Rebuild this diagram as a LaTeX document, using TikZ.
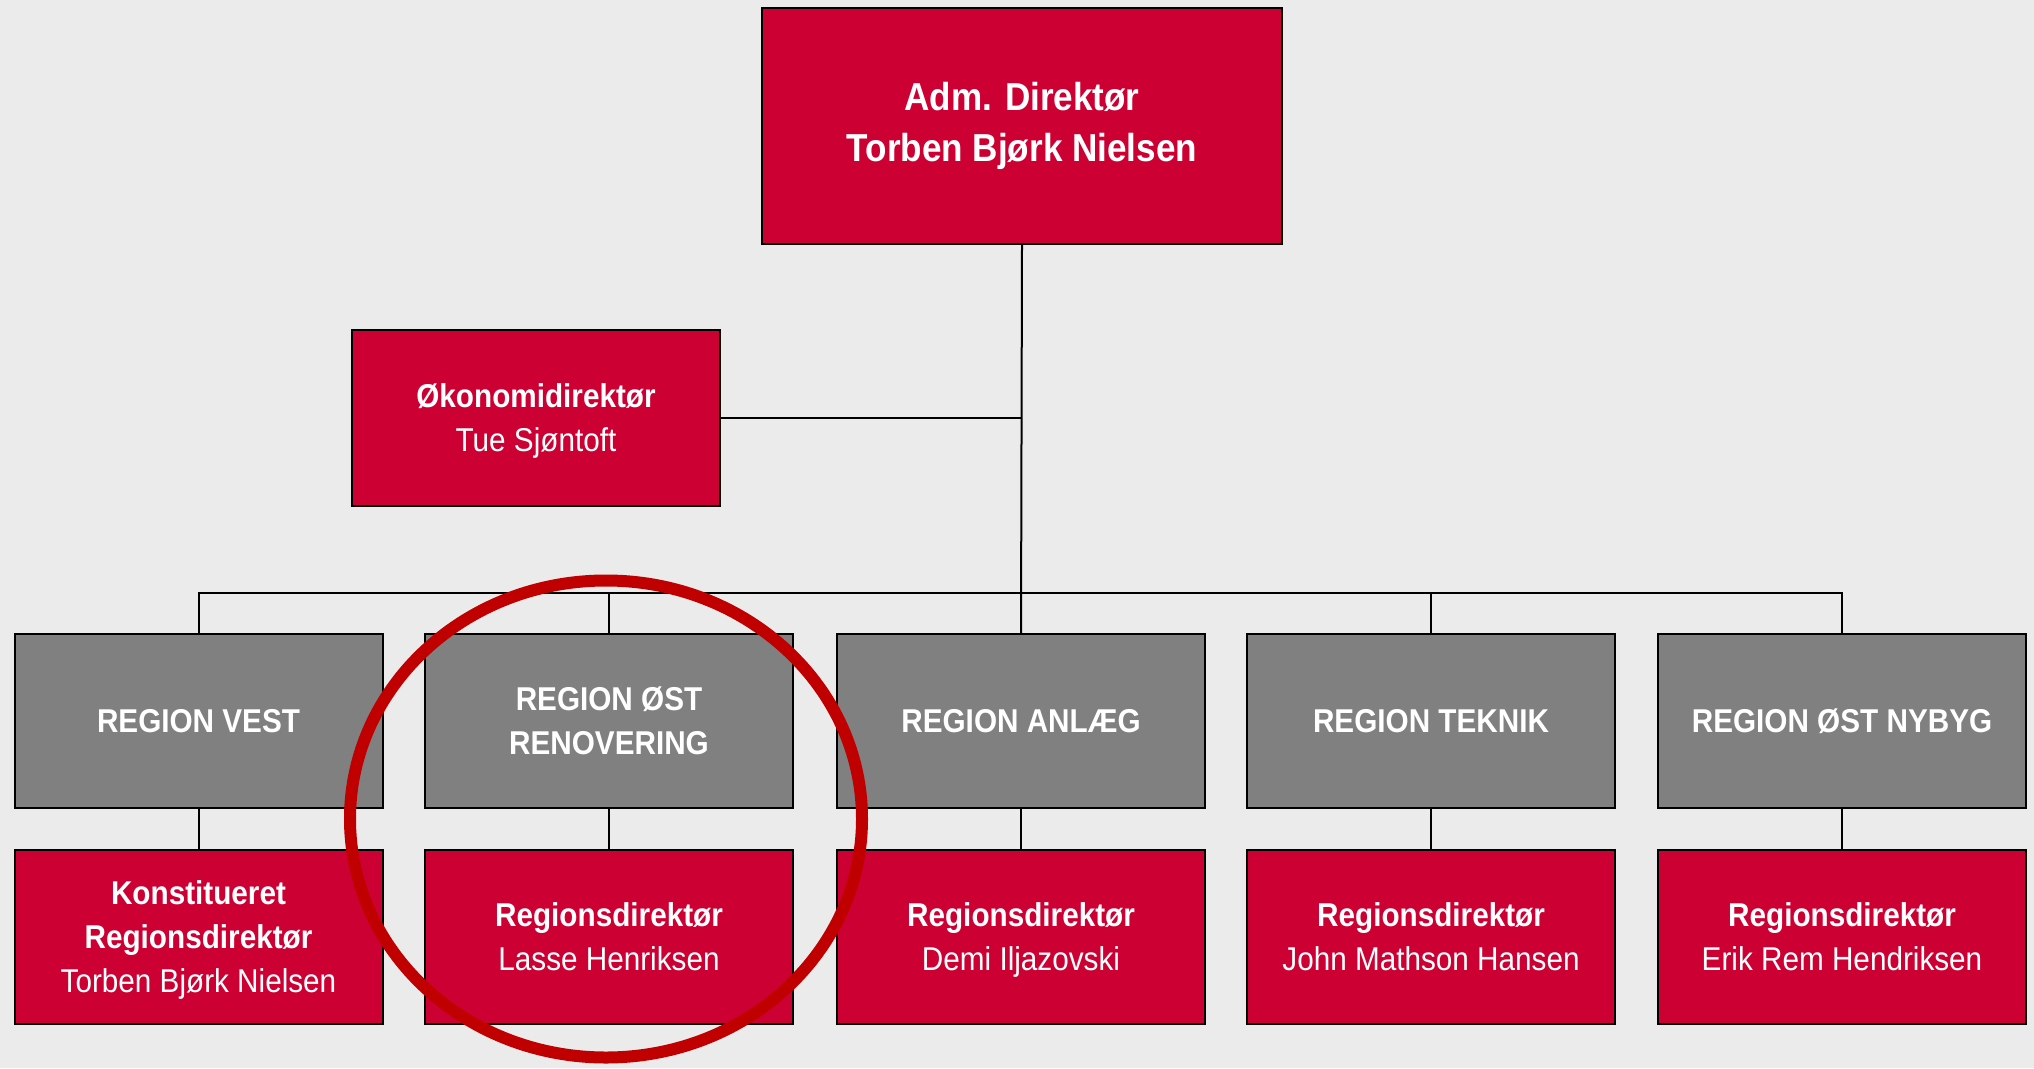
\documentclass[tikz,border=0pt]{standalone}
\usepackage{fontspec}
\setmainfont{Liberation Sans}[FakeStretch=0.9]
\usetikzlibrary{shapes.geometric}
\definecolor{bg}{HTML}{EBEBEB}
\definecolor{boxred}{HTML}{CC0033}
\definecolor{boxgray}{HTML}{808080}
\definecolor{ringred}{HTML}{C00000}
\newcommand{\nodepth}[1]{\raisebox{0pt}[\height][0pt]{#1}}
\tikzset{
  base/.style={draw=black, line width=2pt, inner sep=0pt, align=center, text=white},
  topbox/.style={base, fill=boxred, minimum width=520pt, minimum height=236pt, font=\fontsize{39pt}{51pt}\selectfont\bfseries},
  redbox/.style={base, fill=boxred, minimum width=368pt, minimum height=174pt, font=\fontsize{33pt}{44pt}\selectfont},
  graybox/.style={base, fill=boxgray, minimum width=368pt, minimum height=174pt, font=\fontsize{33pt}{44pt}\selectfont\bfseries},
  conn/.style={draw=black, line width=2pt},
  ring/.style={draw=ringred, line width=12pt, ellipse, minimum width=512pt, minimum height=477pt, inner sep=0pt}
}
\begin{document}
\begin{tikzpicture}[x=1pt,y=-1pt]
\fill[bg] (0,0) rectangle (2034,1068);
\useasboundingbox (0,0) rectangle (2034,1068);
% nodes
\node[topbox] (top) at (1022,126) {Adm. Direktør\\Torben Bjørk Nielsen};
\node[redbox, minimum height=176pt] (oko) at (536,418) {\textbf{Økonomidirektør}\\\nodepth{Tue Sjøntoft}};
\node[graybox] (vest) at (198.5,721) {REGION VEST};
\node[graybox] (ren) at (609,721) {REGION ØST\\RENOVERING};
\node[graybox] (anl) at (1021,721) {REGION ANLÆG};
\node[graybox] (tek) at (1431,721) {REGION TEKNIK};
\node[graybox] (nyb) at (1842,721) {REGION ØST NYBYG};
\node[redbox] (rvest) at (198.5,937) {\textbf{Konstitueret}\\\textbf{Regionsdirektør}\\\nodepth{Torben Bjørk Nielsen}};
\node[redbox] (rren) at (609,937) {\textbf{Regionsdirektør}\\\nodepth{Lasse Henriksen}};
\node[redbox] (ranl) at (1021,937) {\textbf{Regionsdirektør}\\\nodepth{Demi Iljazovski}};
\node[redbox] (rtek) at (1431,937) {\textbf{Regionsdirektør}\\\nodepth{John Mathson Hansen}};
\node[redbox] (rnyb) at (1842,937) {\textbf{Regionsdirektør}\\\nodepth{Erik Rem Hendriksen}};
\coordinate (bus) at (1021,593);
% connectors
\draw[conn] (top.south) -- (anl.north);
\draw[conn] (oko.east) -- (oko.east -| top.south);
\draw[conn] (vest.north) |- (bus) -| (nyb.north);
\draw[conn] (ren.north) -- (ren.north |- bus);
\draw[conn] (tek.north) -- (tek.north |- bus);
\draw[conn] (vest.south) -- (rvest.north);
\draw[conn] (ren.south) -- (rren.north);
\draw[conn] (anl.south) -- (ranl.north);
\draw[conn] (tek.south) -- (rtek.north);
\draw[conn] (nyb.south) -- (rnyb.north);
% highlight ring
\node[ring] (hl) at (606,819) {};
\end{tikzpicture}
\end{document}
